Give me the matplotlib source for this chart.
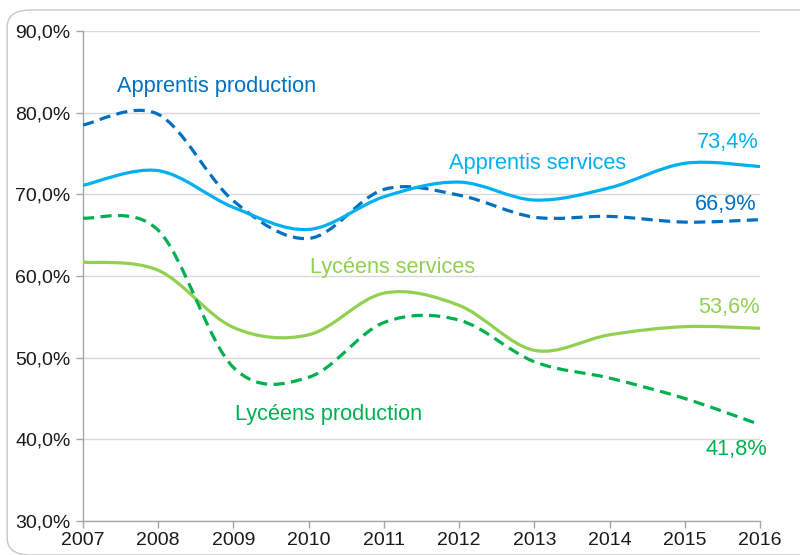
import numpy as np
import matplotlib
matplotlib.use('Agg')
import matplotlib.pyplot as plt
from matplotlib.path import Path
from matplotlib.patches import PathPatch, FancyBboxPatch
from matplotlib.ticker import FuncFormatter

plt.rcParams['font.family'] = ['Liberation Sans', 'DejaVu Sans']

years = [2007, 2008, 2009, 2010, 2011, 2012, 2013, 2014, 2015, 2016]
apprentis_production = [78.5, 79.8, 69.2, 64.6, 70.6, 69.9, 67.2, 67.3, 66.6, 66.9]
apprentis_services = [71.1, 72.9, 68.4, 65.7, 69.7, 71.5, 69.3, 70.8, 73.8, 73.4]
lyceens_services = [61.7, 60.7, 53.7, 52.8, 57.9, 56.4, 50.9, 52.8, 53.8, 53.6]
lyceens_production = [67.1, 65.6, 48.8, 47.6, 54.3, 54.6, 49.5, 47.5, 45.0, 41.8]

C_APP_PROD = '#0070C0'
C_APP_SERV = '#00B0F0'
C_LYC_SERV = '#92D050'
C_LYC_PROD = '#00B050'


def smooth_path(xs, ys):
    """ Excel-like smoothed line: cubic Bezier segments with Catmull-Rom tangents """
    pts = np.column_stack([xs, ys]).astype(float)
    n = len(pts)
    verts = [pts[0]]
    codes = [Path.MOVETO]
    for i in range(n - 1):
        p0 = pts[max(i - 1, 0)]
        p1 = pts[i]
        p2 = pts[i + 1]
        p3 = pts[min(i + 2, n - 1)]
        verts += [p1 + (p2 - p0) / 6, p2 - (p3 - p1) / 6, p2]
        codes += [Path.CURVE4] * 3
    return Path(verts, codes)


def add_series(ax, ys, color, dashed):
    ls = (0, (3.5, 2.0)) if dashed else '-'
    patch = PathPatch(smooth_path(years, ys), facecolor='none', edgecolor=color,
                      lw=2.3, linestyle=ls, capstyle='butt', zorder=3)
    ax.add_patch(patch)


fig = plt.figure(figsize=(8.0, 5.55), dpi=100)
border = FancyBboxPatch((0.009, 0.0), 1.2, 0.982, boxstyle='round,pad=0,rounding_size=0.03',
                        transform=fig.transFigure, facecolor='none', edgecolor='#C8C8C8',
                        lw=1.0, zorder=0)
fig.patches.append(border)

ax = fig.add_axes([83 / 800, 34 / 555, 677 / 800, 490 / 555])
ax.set_xlim(2007, 2016)
ax.set_ylim(30, 90)
ax.set_xticks(years)
ax.set_yticks(np.arange(30, 91, 10))
ax.yaxis.set_major_formatter(FuncFormatter(lambda v, p: f'{v:.1f}%'.replace('.', ',')))
ax.grid(axis='y', color='#D9D9D9', lw=1.0, zorder=0)
ax.set_axisbelow(True)
for s in ['top', 'right']:
    ax.spines[s].set_visible(False)
for s in ['left', 'bottom']:
    ax.spines[s].set_color('#A6A6A6')
    ax.spines[s].set_linewidth(1.0)
ax.tick_params(axis='both', colors='#A6A6A6', labelcolor='#1A1A1A', labelsize=14,
               length=5, width=1.0, direction='out')
ax.tick_params(axis='x', pad=3)
ax.tick_params(axis='y', pad=4)
for lbl in ax.get_xticklabels() + ax.get_yticklabels():
    lbl.set_clip_on(False)

add_series(ax, apprentis_production, C_APP_PROD, True)
add_series(ax, apprentis_services, C_APP_SERV, False)
add_series(ax, lyceens_services, C_LYC_SERV, False)
add_series(ax, lyceens_production, C_LYC_PROD, True)

fs = 15.7
ax.text(2007.45, 83.2, 'Apprentis production', color=C_APP_PROD, fontsize=fs, va='center')
ax.text(2011.87, 73.8, 'Apprentis services', color=C_APP_SERV, fontsize=fs, va='center')
ax.text(2010.02, 61.0, 'Lycéens services', color=C_LYC_SERV, fontsize=fs, va='center')
ax.text(2009.02, 43.0, 'Lycéens production', color=C_LYC_PROD, fontsize=fs, va='center')

ax.text(2015.98, 76.3, '73,4%', color=C_APP_SERV, fontsize=fs, va='center', ha='right')
ax.text(2015.96, 68.8, '66,9%', color=C_APP_PROD, fontsize=fs, va='center', ha='right')
ax.text(2016.0, 56.1, '53,6%', color=C_LYC_SERV, fontsize=fs, va='center', ha='right')
ax.text(2016.1, 38.7, '41,8%', color=C_LYC_PROD, fontsize=fs, va='center', ha='right')

fig.savefig('out.png', dpi=100)
